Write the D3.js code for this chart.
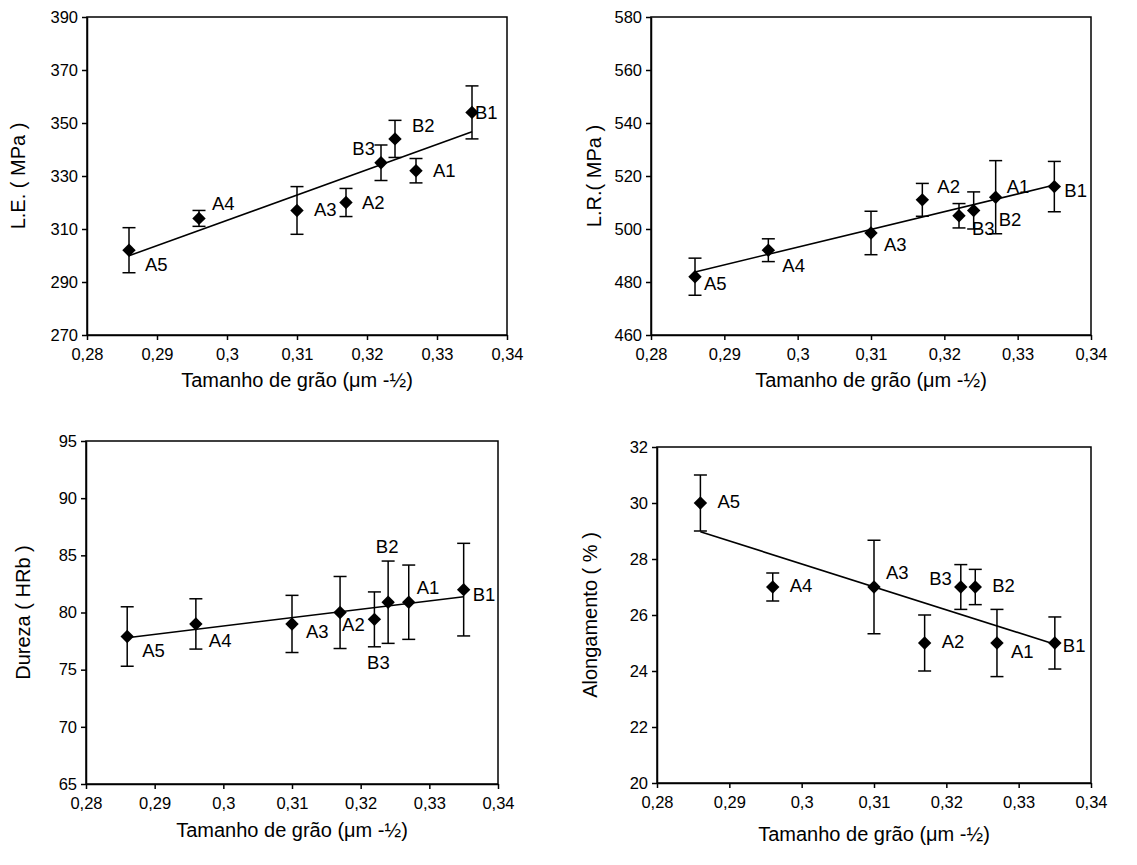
<!DOCTYPE html>
<html>
<head>
<meta charset="utf-8">
<script src="https://cdn.jsdelivr.net/npm/d3@7"></script>
<style>
  body { margin: 0; background: #fff; }
  svg { display: block; font-family: "Liberation Sans", Arial, sans-serif; }
  .axis path, .axis line { stroke: #000; stroke-width: 1.5; }
  .axis text { font-size: 16.5px; fill: #000; }
  .frame { fill: none; stroke: #000; stroke-width: 1.5; }
  .trend { stroke: #000; stroke-width: 1.6; }
  .err line { stroke: #000; stroke-width: 1.5; }
  .label { font-size: 18.5px; fill: #000; }
  .title { font-size: 20px; fill: #000; }
</style>
</head>
<body>
<svg id="chart" width="1137" height="865"></svg>
<script>
// grain size (x) shared by all four charts
const grainSize = [0.286, 0.296, 0.31, 0.317, 0.322, 0.324, 0.327, 0.335];
const samples   = ["A5", "A4", "A3", "A2", "B3", "B2", "A1", "B1"];
const xTicks    = [0.28, 0.29, 0.30, 0.31, 0.32, 0.33, 0.34];

const leValues = [302, 314, 317, 320, 335, 344, 332, 354];
const leErrors = [8.5, 3, 9, 5.3, 6.7, 7, 4.6, 10];
const leTicks  = [270, 290, 310, 330, 350, 370, 390];

const lrValues = [482, 492, 498.5, 511, 505, 507, 512, 516];
const lrErrors = [7, 4.3, 8.2, 6.2, 4.6, 7, 13.8, 9.5];
const lrTicks  = [460, 480, 500, 520, 540, 560, 580];

const hardValues = [77.9, 79, 79, 80, 79.4, 80.9, 80.9, 82];
const hardErrors = [2.6, 2.2, 2.5, 3.15, 2.4, 3.6, 3.25, 4.05];
const hardTicks  = [65, 70, 75, 80, 85, 90, 95];

const elongValues = [30, 27, 27, 25, 27, 27, 25, 25];
const elongErrors = [1, 0.5, 1.67, 1, 0.8, 0.63, 1.2, 0.93];
const elongTicks  = [20, 22, 24, 26, 28, 30, 32];

const xTitle = "Tamanho de grão (\u03bcm -\u00bd)";

// label placement (dx, dy from the point, anchor) per sample, per chart
const panels = [
  {values: leValues, errors: leErrors, ticks: leTicks, yTitle: "L.E. ( MPa )",
   box: {left: 87, right: 507, top: 17, bottom: 335}, xTitleGap: 52, yTitleGap: 62,
   labels: [[16, 14], [13, -15], [17, -1], [16, 0], [-6, -14, "end"], [17, -13], [17, 0], [3, 0]]},
  {values: lrValues, errors: lrErrors, ticks: lrTicks, yTitle: "L.R.( MPa )",
   box: {left: 651, right: 1091, top: 17, bottom: 335}, xTitleGap: 52, yTitleGap: 50,
   labels: [[9, 7], [14, 15], [13, 12], [15, -13], [13, 13], [25, 9], [11, -11], [10, 4]]},
  {values: hardValues, errors: hardErrors, ticks: hardTicks, yTitle: "Dureza ( HRb )",
   box: {left: 86, right: 498, top: 441, bottom: 784}, xTitleGap: 53, yTitleGap: 56,
   labels: [[15, 14], [13, 17], [14, 8], [2, 12], [4, 43, "middle"], [-1, -56, "middle"], [8, -15], [9, 5]]},
  {values: elongValues, errors: elongErrors, ticks: elongTicks, yTitle: "Alongamento ( % )",
   box: {left: 657, right: 1091, top: 447, bottom: 783}, xTitleGap: 58, yTitleGap: 60,
   labels: [[17, -1], [17, -1], [12, -14], [17, -1], [-9, -8, "end"], [17, -1], [14, 9], [8, 3]]}
];

const svg = d3.select("#chart");
const fmtComma = (v) => String(+v.toFixed(3)).replace(".", ",");

function linearFit(xs, ys) {
  const mx = d3.mean(xs), my = d3.mean(ys);
  let sxy = 0, sxx = 0;
  xs.forEach((x, i) => { sxy += (x - mx) * (ys[i] - my); sxx += (x - mx) * (x - mx); });
  const slope = sxy / sxx;
  return (x) => my + slope * (x - mx);
}

function drawPanel(p) {
  const b = p.box;
  const g = svg.append("g");
  const x = d3.scaleLinear().domain([0.28, 0.34]).range([b.left, b.right]);
  const y = d3.scaleLinear().domain(d3.extent(p.ticks)).range([b.bottom, b.top]);

  g.append("rect").attr("class", "frame")
    .attr("x", b.left).attr("y", b.top)
    .attr("width", b.right - b.left).attr("height", b.bottom - b.top);

  g.append("g").attr("class", "axis")
    .attr("transform", `translate(0,${b.bottom})`)
    .call(d3.axisBottom(x).tickValues(xTicks).tickFormat(fmtComma).tickSize(5).tickSizeOuter(0).tickPadding(8));

  g.append("g").attr("class", "axis")
    .attr("transform", `translate(${b.left},0)`)
    .call(d3.axisLeft(y).tickValues(p.ticks).tickSize(5).tickSizeOuter(0).tickPadding(4));

  // trend line
  const fit = linearFit(grainSize, p.values);
  const x0 = d3.min(grainSize), x1 = d3.max(grainSize);
  g.append("line").attr("class", "trend")
    .attr("x1", x(x0)).attr("y1", y(fit(x0)))
    .attr("x2", x(x1)).attr("y2", y(fit(x1)));

  // error bars
  const pts = grainSize.map((gs, i) => ({x: gs, v: p.values[i], e: p.errors[i], name: samples[i], lab: p.labels[i]}));
  const err = g.selectAll("g.err").data(pts).join("g").attr("class", "err");
  err.append("line")
    .attr("x1", (d) => x(d.x)).attr("x2", (d) => x(d.x))
    .attr("y1", (d) => y(d.v - d.e)).attr("y2", (d) => y(d.v + d.e));
  [-1, 1].forEach((s) => {
    err.append("line")
      .attr("x1", (d) => x(d.x) - 6.5).attr("x2", (d) => x(d.x) + 6.5)
      .attr("y1", (d) => y(d.v + s * d.e)).attr("y2", (d) => y(d.v + s * d.e));
  });

  // diamonds
  g.selectAll("path.pt").data(pts).join("path").attr("class", "pt")
    .attr("d", d3.symbol(d3.symbolSquare, 90))
    .attr("fill", "#000")
    .attr("transform", (d) => `translate(${x(d.x)},${y(d.v)}) rotate(45)`);

  // sample labels
  g.selectAll("text.label").data(pts).join("text").attr("class", "label")
    .attr("x", (d) => x(d.x) + d.lab[0])
    .attr("y", (d) => y(d.v) + d.lab[1])
    .attr("dy", "0.35em")
    .attr("text-anchor", (d) => d.lab[2] || "start")
    .text((d) => d.name);

  // axis titles
  g.append("text").attr("class", "title")
    .attr("text-anchor", "middle")
    .attr("x", (b.left + b.right) / 2).attr("y", b.bottom + p.xTitleGap)
    .text(xTitle);
  g.append("text").attr("class", "title")
    .attr("text-anchor", "middle")
    .attr("transform", `translate(${b.left - p.yTitleGap},${(b.top + b.bottom) / 2}) rotate(-90)`)
    .text(p.yTitle);
}

panels.forEach(drawPanel);
</script>
</body>
</html>
